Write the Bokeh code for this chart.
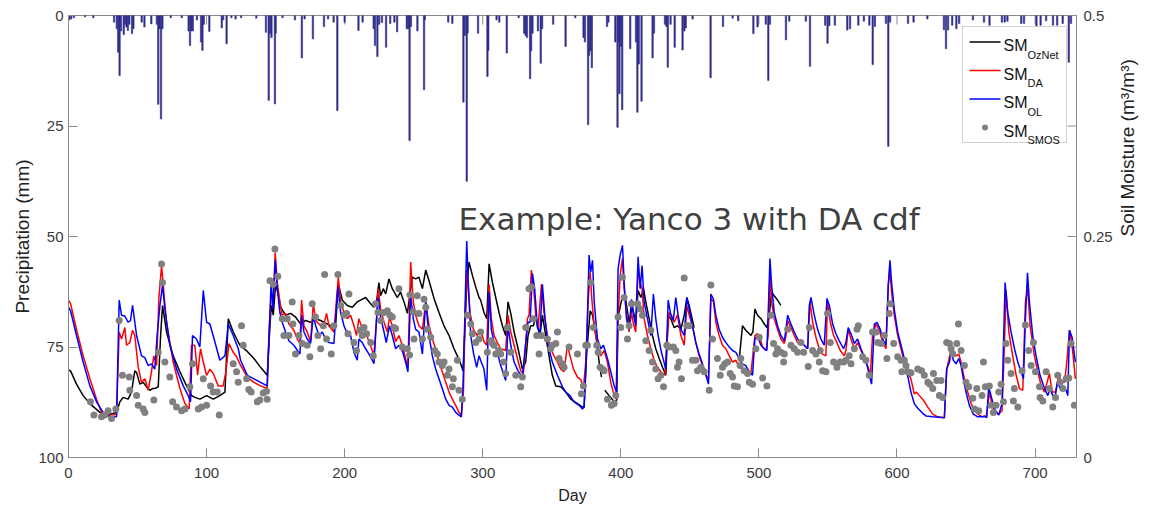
import math
import numpy as np
from bokeh.plotting import figure
from bokeh.models import Range1d, LinearAxis, FixedTicker, Label, BoxAnnotation
from bokeh.embed import file_html
from bokeh.resources import INLINE

# ---------------- data ----------------
DAY_TICKS = [0, 100, 200, 300, 400, 500, 600, 700]
PRECIP_TICKS = [0, 25, 50, 75, 100]
SM_TICKS = [0, 0.25, 0.5]
SM_TICK_LABELS = {0: "0", 0.25: "0.25", 0.5: "0.5"}
MIRROR_PRECIP_TICKS = [25, 75]

precip_day = [0.5, 2, 4, 12, 18, 33, 35, 36, 37, 38, 40, 41, 42, 43, 44, 46, 47, 53, 55, 60, 64, 65, 66, 67, 68,
              74, 82, 87, 88, 89, 90, 93, 96, 97, 98, 102, 111, 112, 114.5, 118, 121, 125, 136, 143, 145, 146,
              147, 149.5, 150, 155, 164, 169, 171, 177, 185, 188, 192, 194.7, 200, 210, 213, 221, 222, 223.7,
              225, 227, 230, 233, 236, 238, 245, 246, 247, 248, 252.7, 257.5, 258, 275, 278, 286, 287, 288.4,
              289, 296.6, 303.4, 304, 310, 312, 317.4, 326, 330, 331, 332, 334.3, 335, 336, 340, 342, 343,
              351, 360, 367, 373, 374, 376.3, 377, 378, 379, 390, 391, 396, 397.6, 398, 399, 400, 401, 406.8,
              411, 412, 413, 415, 423, 424, 432, 433, 434, 436, 439, 444.7, 446, 447, 452, 465, 474, 481, 485,
              496, 499, 505, 506.8, 508, 519.6, 522, 534, 537, 548, 549.7, 551, 555, 564, 566, 572, 576, 580,
              582.4, 584, 592, 593.7, 595, 608, 612, 622, 634, 635.5, 637, 640, 643, 645, 655, 663, 667, 676,
              678, 680, 690, 692, 701, 704, 708, 713, 716, 720, 724.4, 726]
precip_mm = [1.0, 0.8, 0.5, 0.3, 0.5, 1.5, 3.0, 8.3, 13.6, 3.5, 4.3, 2.0, 2.6, 3.4, 2.0, 4.1, 3.0, 1.5, 2.6, 1.9,
             2.0, 20.1, 3.0, 23.4, 3.0, 0.5, 0.5, 3.5, 6.8, 3.5, 3.5, 1.0, 6.0, 7.9, 2.0, 3.6, 2.8, 1.0, 6.4,
             0.5, 0.8, 0.5, 0.6, 3.8, 19.2, 4.0, 5.0, 20.0, 4.0, 0.5, 1.0, 9.6, 0.8, 5.3, 2.5, 0.8, 1.5, 21.5,
             1.5, 3.4, 1.5, 3.0, 6.8, 9.3, 2.0, 1.6, 7.2, 1.8, 1.5, 3.7, 3.0, 3.0, 28.3, 2.5, 3.5, 16.8, 1.0,
             1.5, 1.8, 19.6, 4.5, 37.5, 4.0, 4.0, 13.8, 7.9, 1.0, 1.5, 8.5, 0.5, 4.0, 4.5, 5.0, 14.3, 8.0, 4.0,
             3.5, 10.8, 3.0, 2.0, 7.0, 0.5, 5.0, 6.0, 24.7, 9.0, 8.0, 11.8, 2.5, 1.5, 6.0, 25.3, 6.0, 17.7,
             7.0, 21.3, 7.5, 6.0, 21.9, 11.0, 19.4, 9.6, 4.0, 2.0, 2.5, 11.7, 2.0, 7.2, 7.8, 3.5, 2.8, 0.8,
             14.1, 2.5, 0.6, 1.2, 4.1, 2.6, 2.0, 14.7, 2.0, 5.5, 1.3, 1.3, 11.5, 2.2, 6.3, 2.3, 2.2, 3.3, 3.0,
             2.2, 1.3, 2.2, 11.1, 2.5, 1.8, 29.6, 1.5, 1.8, 1.5, 0.8, 3.2, 7.5, 3.3, 2.2, 3.0, 1.8, 1.0, 1.5,
             2.2, 1.5, 1.5, 1.3, 1.8, 1.8, 2.4, 2.2, 1.2, 2.2, 2.2, 1.8, 10.6, 1.8]

# SM_OzNet (None = missing)
oznet_pts = [(0, 0.099), (1.5, 0.098), (5.8, 0.083), (10.6, 0.070), (15.5, 0.061), (22.7, 0.051), (30, 0.049),
             (34.8, 0.051), (37.2, 0.063), (39.6, 0.068), (43.2, 0.066), (45.6, 0.074), (48, 0.098), (49.3, 0.096),
             (51.7, 0.083), (54.1, 0.085), (56.5, 0.080), (58.9, 0.076), (60.9, 0.078), (62.5, 0.078), (65, 0.080),
             (66.7, 0.138), (68.1, 0.172), (71, 0.142), (75.8, 0.115), (80.7, 0.097), (85.5, 0.081), (87.9, 0.074),
             (89.1, 0.070), (91.5, 0.068), (95.2, 0.066), (100, 0.070), (104.8, 0.066), (109.6, 0.070),
             (113.3, 0.074), (115.7, 0.157), (119.3, 0.142), (124.1, 0.127), (129.5, 0.120), (134.3, 0.112),
             (139.1, 0.102), (143.9, 0.093), (145.1, 0.127), (146.8, 0.172), (148.3, 0.161), (150, 0.196),
             (151.6, 0.187), (153.6, 0.170), (157.2, 0.161), (160.8, 0.163), (164.4, 0.159), (168.1, 0.151),
             (171.7, 0.155), (175.3, 0.153), (178.9, 0.157), (182.6, 0.155), (186.2, 0.152), (189.8, 0.149),
             (193.4, 0.149), (195.4, 0.196), (198.3, 0.178), (201.9, 0.172), (205.5, 0.170), (209.1, 0.176),
             (211.5, 0.178), (215.2, 0.181), (218.8, 0.174), (221.2, 0.170), (223.1, 0.176), (224.8, 0.198),
             (226, 0.183), (228, 0.191), (229.7, 0.185), (232.1, 0.202), (234.5, 0.191), (238.1, 0.181),
             (240.5, 0.187), (243, 0.176), (245.4, 0.163), (247.3, 0.185), (249, 0.204), (251.4, 0.202),
             (253.8, 0.204), (256.3, 0.191), (258.7, 0.212), (261.1, 0.200), (264.7, 0.180), (268.3, 0.164),
             (271.9, 0.149), (275.6, 0.138), (279.2, 0.123), (281.6, 0.115), (284, 0.106), (285.7, 0.098),
             (287.2, 0.149), (288.4, 0.195), (290.1, 0.221), (292.5, 0.206), (294.9, 0.193), (297.3, 0.181),
             (298.5, 0.178), (300.9, 0.164), (302.9, 0.157), (304.6, 0.219), (307, 0.198), (309.4, 0.181),
             (311.8, 0.164), (314.2, 0.149), (316.6, 0.138), (318.3, 0.176), (320.3, 0.163), (322.7, 0.142),
             (325.6, 0.123), (328.7, 0.100), (331.1, 0.108), (332.8, 0.138), (334.7, 0.149), (336.7, 0.149),
             (338.4, 0.161), (340, 0.146), (341.5, 0.138), (343.2, 0.161), (345.6, 0.138), (348, 0.115),
             (350.4, 0.093), (352.9, 0.081), (356.5, 0.080), (360.1, 0.074), (363.7, 0.066), (368.6, 0.061),
             (372.2, 0.057), (373.4, 0.057), (375.3, 0.119), (377.8, 0.166), (379.5, 0.161), (381.9, 0.138),
             (384.3, 0.108), (386, 0.091), (387.2, None), (388.4, 0.076), (391.5, 0.070), (395.2, 0.063),
             (397, 0.065), (398, 0.159), (401.2, 0.183), (403.6, 0.178), (406, 0.153), (408.4, 0.170),
             (410.8, 0.153), (412.5, 0.189), (414.5, 0.181), (416.4, 0.191), (418.1, 0.176), (420.5, 0.157),
             (422.9, 0.138), (425.3, 0.123), (427.8, 0.112), (430.2, 0.102), (432.6, 0.093), (434.3, 0.161),
             (436.2, 0.157), (438.6, 0.147), (441, 0.149), (443.5, 0.145), (445.9, 0.161), (447.8, 0.181),
             (449.5, 0.172), (451.9, 0.155), (453.1, 0.147), (470, None), (485.7, 0.110), (488.1, 0.149),
             (490.5, 0.144), (494.2, 0.138), (495.6, 0.142), (497.1, 0.168), (499, 0.161), (501.5, 0.157),
             (503.9, 0.151), (505.8, 0.147), (507.5, 0.161), (509.2, 0.187), (511.1, 0.183), (513.5, 0.178),
             (515.9, 0.172)]

# SM_DA
da_pts = [(0, 0.178), (1.5, 0.174), (5.8, 0.145), (10.6, 0.115), (15.5, 0.089), (20.3, 0.066), (23.9, 0.051),
          (30, 0.0475), (34.8, 0.049), (36.7, 0.142), (38.4, 0.134), (40.8, 0.147), (42, 0.127), (44.4, 0.130),
          (46.4, 0.144), (48, 0.138), (50.5, 0.102), (52.9, 0.085), (55.3, 0.089), (57.7, 0.076), (60.1, 0.097),
          (61.8, 0.115), (63.8, 0.104), (65.4, 0.179), (67.4, 0.217), (68.6, 0.195), (71, 0.153), (75.8, 0.108),
          (80.7, 0.078), (84.3, 0.061), (87.4, 0.055), (89.1, 0.127), (91.5, 0.127), (93.5, 0.093),
          (95.6, 0.123), (97.6, 0.108), (100, 0.093), (102.4, 0.100), (104.8, 0.095), (108.4, 0.081),
          (112, 0.081), (114, 0.097), (116.2, 0.129), (119.3, 0.119), (121.7, 0.114), (124.1, 0.106),
          (129.5, 0.091), (134.3, 0.085), (139.1, 0.081), (143.9, 0.078), (145.1, 0.138), (146.8, 0.185),
          (148.3, 0.176), (149.7, 0.232), (151.2, 0.198), (153.1, 0.176), (154.8, 0.161), (157.2, 0.163),
          (159.6, 0.151), (163.2, 0.144), (165.7, 0.134), (167.6, 0.129), (168.8, 0.178), (170.5, 0.149),
          (172.9, 0.142), (175.3, 0.131), (177.3, 0.174), (179, 0.155), (182.6, 0.149), (185, 0.151),
          (186.9, 0.163), (188.6, 0.149), (192.2, 0.142), (195.4, 0.204), (197.1, 0.176), (199.5, 0.164),
          (201.9, 0.157), (204.3, 0.161), (206.7, 0.149), (208.6, 0.138), (210.3, 0.157), (212.7, 0.146),
          (215.2, 0.142), (217.6, 0.131), (220, 0.121), (221.2, 0.115), (223.1, 0.157), (224.3, 0.191),
          (226, 0.168), (228.5, 0.153), (230.9, 0.142), (232.5, 0.159), (234.5, 0.149), (236.9, 0.131),
          (239.3, 0.138), (241.7, 0.127), (244.1, 0.112), (245.8, 0.102), (247.8, 0.221), (249.7, 0.176),
          (251.4, 0.161), (253.8, 0.149), (256.3, 0.145), (258.7, 0.176), (261.1, 0.149), (263.5, 0.134),
          (265.9, 0.123), (268.3, 0.108), (270.7, 0.097), (273.2, 0.085), (275.6, 0.074), (278, 0.066),
          (280.4, 0.059), (282.8, 0.051), (284.5, 0.048), (286, 0.074), (287.2, 0.157), (288.4, 0.213),
          (289.4, 0.195), (290.8, 0.164), (293.2, 0.145), (296.1, 0.138), (298.5, 0.145), (300.9, 0.131),
          (302.9, 0.127), (304.6, 0.196), (306.2, 0.157), (308.2, 0.138), (310.6, 0.130), (313, 0.123),
          (316.6, 0.121), (318.3, 0.161), (320.3, 0.142), (322.7, 0.127), (325.1, 0.112), (327.5, 0.098),
          (329.4, 0.095), (331.1, 0.127), (332.3, 0.157), (333.5, 0.161), (335.2, 0.212), (336.7, 0.195),
          (338.4, 0.161), (340, 0.146), (342.5, 0.196), (344.4, 0.164), (346.8, 0.138), (349.2, 0.123),
          (351.6, 0.115), (354.1, 0.108), (356.5, 0.100), (358.9, 0.097), (361.3, 0.127), (363.2, 0.115),
          (365.7, 0.100), (368.6, 0.091), (371, 0.088), (372.9, 0.078), (374.6, 0.108), (376.3, 0.176),
          (377.8, 0.210), (379, 0.179), (380.7, 0.149), (383.1, 0.127), (385.5, 0.115), (387.9, 0.121),
          (390.3, 0.108), (392.7, 0.085), (395.2, 0.070), (396.6, 0.066), (398, 0.157), (399.5, 0.206),
          (401.2, 0.225), (402.4, 0.191), (404.1, 0.164), (406, 0.142), (407.7, 0.164), (409.2, 0.151),
          (410.8, 0.142), (412.5, 0.213), (414, 0.198), (415.4, 0.191), (416.9, 0.157), (419.3, 0.138),
          (421.7, 0.123), (424.1, 0.110), (426.5, 0.102), (429, 0.097), (431.9, 0.093), (433.8, 0.138),
          (435, 0.164), (436.7, 0.161), (438.6, 0.153), (441, 0.161), (443.5, 0.138), (445.9, 0.127),
          (447.8, 0.172), (449.5, 0.161), (451.9, 0.149), (454.3, 0.130), (456.7, 0.115), (459.1, 0.104),
          (461.6, 0.093), (463.5, 0.089), (465.2, 0.180), (467.1, 0.176), (468.8, 0.153), (471.2, 0.138),
          (473.6, 0.127), (476.1, 0.123), (478.5, 0.115), (480.9, 0.108), (483.3, 0.110), (485.7, 0.102),
          (489.3, 0.100), (491.8, 0.097), (494.2, 0.095), (497.1, 0.138), (499, 0.140), (501, 0.134),
          (502.7, 0.125), (505.1, 0.121), (506.8, 0.138), (508, 0.210), (509.2, 0.176), (511.1, 0.157),
          (513.5, 0.145), (515.9, 0.134), (518.4, 0.129), (519.6, 0.138), (520.8, 0.155), (523.2, 0.147),
          (525.6, 0.138), (528, 0.130), (530.4, 0.130), (532.8, 0.127), (535.3, 0.123), (537, 0.176),
          (538.9, 0.153), (541.3, 0.136), (543.7, 0.123), (546.1, 0.117), (548.5, 0.115), (549.7, 0.176),
          (551.7, 0.153), (554.1, 0.138), (556.5, 0.130), (558.9, 0.121), (561.8, 0.115), (563, 0.121),
          (564.7, 0.145), (566.7, 0.134), (569.1, 0.123), (571.5, 0.130), (573.9, 0.121), (576.3, 0.114),
          (578.7, 0.104), (580.7, 0.093), (582.3, 0.138), (584.8, 0.151), (587.2, 0.144), (589.6, 0.130),
          (592, 0.123), (593.7, 0.195), (594.7, 0.213), (596.1, 0.187), (598, 0.161), (600.5, 0.138),
          (602.9, 0.123), (605.3, 0.108), (607.7, 0.097), (610.1, 0.089), (612.5, 0.072), (614, 0.074),
          (616.2, 0.070), (619.5, 0.064), (622.3, 0.057), (625.9, 0.049), (629.5, 0.046), (634.3, 0.045),
          (636, 0.100), (637.2, 0.108), (639.2, 0.123), (640.8, 0.115), (642.8, 0.115), (644.7, 0.117),
          (646.4, 0.108), (648.8, 0.089), (651.2, 0.074), (653.7, 0.061), (656.1, 0.053), (659.7, 0.048),
          (662.1, 0.046), (664.6, 0.046), (667, 0.074), (668.9, 0.059), (671.3, 0.051), (673.7, 0.049),
          (676.1, 0.053), (677.8, 0.127), (679, 0.189), (681, 0.142), (683.8, 0.115), (686.3, 0.093),
          (688.7, 0.078), (691.1, 0.076), (693, 0.176), (694.7, 0.191), (696.4, 0.149), (699.5, 0.115),
          (702, 0.097), (704.4, 0.081), (706.8, 0.074), (708.7, 0.085), (710.4, 0.095), (712.3, 0.074),
          (714.7, 0.074), (717.2, 0.093), (719, 0.085), (721.3, 0.085), (723, 0.108), (724.9, 0.144),
          (726.8, 0.127), (729.2, 0.089)]

# SM_OL
ol_pts = [(0, 0.170), (1.5, 0.166), (5.8, 0.138), (10.6, 0.108), (15.5, 0.081), (20.3, 0.063), (25.1, 0.051),
          (30, 0.046), (34.8, 0.046), (36.7, 0.178), (38.4, 0.161), (40.8, 0.160), (43.2, 0.153), (44.9, 0.155),
          (46.4, 0.172), (49.3, 0.138), (52.9, 0.115), (55.3, 0.113), (57.7, 0.104), (60.1, 0.106), (62.5, 0.100),
          (64.2, 0.138), (66.2, 0.172), (68.1, 0.195), (69.8, 0.168), (73.4, 0.127), (78.3, 0.100), (83.1, 0.081),
          (86.7, 0.070), (88.4, 0.063), (89.8, 0.138), (92.7, 0.134), (95.1, 0.125), (97.6, 0.189), (100, 0.153),
          (102.4, 0.151), (106, 0.131), (109.6, 0.110), (113.3, 0.115), (115.7, 0.151), (119.3, 0.138),
          (123, 0.123), (124.6, 0.110), (129.5, 0.093), (134.3, 0.089), (139.1, 0.085), (143.9, 0.081),
          (145.1, 0.131), (146.8, 0.200), (148, 0.168), (149.7, 0.223), (151.2, 0.191), (153.1, 0.164),
          (154.8, 0.153), (157.2, 0.142), (159.6, 0.132), (163.2, 0.127), (167.6, 0.117), (168.8, 0.161),
          (170.5, 0.142), (172.9, 0.134), (175.3, 0.129), (177.3, 0.161), (179, 0.149), (181.4, 0.138),
          (183.8, 0.142), (186.2, 0.134), (188.6, 0.130), (192.2, 0.129), (195.1, 0.193), (197.1, 0.164),
          (199.5, 0.149), (201.9, 0.140), (204.3, 0.138), (206.7, 0.119), (209.1, 0.110), (210.3, 0.134),
          (212.7, 0.130), (215.2, 0.123), (217.6, 0.117), (220, 0.110), (221.2, 0.106), (223.1, 0.157),
          (224.3, 0.181), (226, 0.159), (228.5, 0.142), (230.1, 0.130), (232.5, 0.149), (234.5, 0.138),
          (236.9, 0.123), (239.3, 0.127), (241.7, 0.121), (244.1, 0.108), (245.8, 0.097), (247.8, 0.183),
          (249.7, 0.157), (251.4, 0.145), (253.8, 0.142), (256.3, 0.117), (258.7, 0.176), (261.1, 0.138),
          (263.5, 0.115), (265.9, 0.100), (268.3, 0.089), (270.7, 0.078), (273.2, 0.066), (275.6, 0.059),
          (278, 0.057), (280.4, 0.051), (282.8, 0.048), (284.5, 0.046), (285.7, 0.081), (287, 0.157),
          (288.4, 0.245), (289.6, 0.195), (291.3, 0.138), (293.2, 0.119), (295.6, 0.102), (297.3, 0.115),
          (298.9, 0.108), (300.9, 0.100), (302.9, 0.076), (304.6, 0.187), (306.2, 0.145), (308.2, 0.130),
          (310.6, 0.119), (313, 0.104), (316.6, 0.087), (318.3, 0.149), (320.3, 0.127), (322.7, 0.108),
          (325.6, 0.098), (328.7, 0.091), (331.1, 0.130), (332.8, 0.153), (334.3, 0.153), (336, 0.208),
          (337.6, 0.191), (339.6, 0.147), (341.5, 0.142), (343.2, 0.196), (345.1, 0.157), (347.3, 0.127),
          (350.4, 0.108), (354.1, 0.093), (357.7, 0.080), (360.1, 0.074), (363.2, 0.070), (366.1, 0.063),
          (369.8, 0.059), (372.2, 0.055), (373.4, 0.057), (375.3, 0.127), (377, 0.229), (378.2, 0.210),
          (379.5, 0.223), (380.7, 0.176), (383.1, 0.134), (385.5, 0.123), (387.4, 0.127), (390.3, 0.112),
          (392.7, 0.097), (395.2, 0.081), (396.8, 0.074), (398, 0.213), (399.5, 0.229), (401.2, 0.240),
          (402.4, 0.198), (404.1, 0.157), (406, 0.145), (407.7, 0.179), (409.2, 0.161), (410.8, 0.149),
          (412.5, 0.227), (414, 0.191), (415.4, 0.217), (416.9, 0.176), (419.3, 0.157), (421.7, 0.138),
          (423.6, 0.185), (425.3, 0.157), (427, 0.138), (429.4, 0.119), (432.6, 0.100), (434.3, 0.178),
          (436.2, 0.161), (438, 0.155), (439.8, 0.181), (441.5, 0.161), (443.5, 0.145), (445.9, 0.138),
          (447.8, 0.181), (449.5, 0.168), (451.9, 0.149), (454.3, 0.130), (456.7, 0.117), (459.1, 0.106),
          (461.6, 0.093), (463.5, 0.083), (465.2, 0.185), (467.1, 0.179), (468.8, 0.161), (471.2, 0.145),
          (473.6, 0.136), (476.1, 0.130), (478.5, 0.125), (480.9, 0.121), (483.3, 0.119), (485.7, 0.112),
          (488.1, 0.106), (490.5, 0.104), (493, 0.097), (495.4, 0.093), (497.1, 0.134), (499, 0.138),
          (501.4, 0.127), (503.9, 0.123), (505.8, 0.121), (507, 0.176), (508, 0.225), (509.2, 0.195),
          (511.1, 0.164), (513.5, 0.149), (515.9, 0.138), (518.4, 0.132), (519.6, 0.145), (520.8, 0.161),
          (523.2, 0.151), (525.6, 0.142), (528, 0.134), (530.4, 0.130), (532.8, 0.127), (535.3, 0.123),
          (536.5, 0.172), (537.7, 0.181), (540.1, 0.161), (542.5, 0.145), (544.9, 0.134), (547.3, 0.127),
          (549.3, 0.180), (551, 0.172), (553.4, 0.151), (555.8, 0.140), (558.2, 0.132), (561.3, 0.123),
          (563, 0.130), (564.7, 0.147), (566.7, 0.140), (569.1, 0.129), (571.5, 0.134), (573.9, 0.123),
          (576.3, 0.114), (578.7, 0.102), (579.9, 0.093), (581.6, 0.083), (583.6, 0.151), (585.5, 0.153),
          (587.9, 0.145), (589.6, 0.134), (592, 0.127), (593.7, 0.195), (594.9, 0.223), (596.1, 0.198),
          (598, 0.168), (600.5, 0.142), (602.9, 0.127), (605.3, 0.112), (607.7, 0.093), (610.1, 0.074),
          (612.5, 0.061), (614.9, 0.056), (618.6, 0.050), (621, 0.047), (625.9, 0.046), (634.3, 0.045),
          (636, 0.100), (638, 0.108), (639.2, 0.121), (640.8, 0.110), (642.8, 0.106), (644.7, 0.112),
          (646.4, 0.104), (648.1, 0.089), (650, 0.074), (652.4, 0.059), (655.3, 0.049), (658.5, 0.046),
          (661.6, 0.046), (663.3, 0.047), (665, 0.045), (666.4, 0.080), (668.1, 0.070), (670.6, 0.055),
          (673.7, 0.048), (676.1, 0.061), (677.1, 0.127), (678.3, 0.198), (680.2, 0.164), (682.6, 0.142),
          (685.1, 0.123), (687.5, 0.108), (689.9, 0.097), (691.6, 0.089), (693, 0.157), (694.5, 0.209),
          (695.9, 0.176), (698.3, 0.138), (700.7, 0.115), (703.6, 0.093), (706.8, 0.078), (709.2, 0.070),
          (710.9, 0.078), (712.8, 0.070), (714.7, 0.070), (716.4, 0.087), (718.1, 0.078), (720.1, 0.080),
          (722.5, 0.076), (723.7, 0.070), (724.9, 0.144), (726.8, 0.136), (729.2, 0.108)]

# SM_SMOS retrievals
smos_pts = [(15.9, 0.063), (18.4, 0.048), (23.9, 0.046), (26.3, 0.048), (28.7, 0.053), (31.2, 0.044),
            (34.3, 0.055), (36.7, 0.155), (39.1, 0.093), (44, 0.091), (44.4, 0.076), (49.3, 0.070), (50.5, 0.059),
            (54.1, 0.055), (55.3, 0.051), (61.8, 0.065), (65, 0.119), (67.4, 0.219), (68.1, 0.198), (69.8, 0.108),
            (73.4, 0.091), (75.4, 0.063), (78.2, 0.057), (81.9, 0.053), (84.3, 0.055), (87.9, 0.080),
            (89.8, 0.106), (94, 0.055), (96.4, 0.057), (97.6, 0.089), (100, 0.059), (102.9, 0.081),
            (104.8, 0.074), (107.7, 0.074), (109.2, 0.048), (119.3, 0.106), (121.7, 0.097), (122.9, 0.085),
            (125.3, 0.149), (126.5, 0.127), (129, 0.089), (130.6, 0.077), (132.3, 0.074), (136.7, 0.063),
            (138.6, 0.065), (141, 0.073), (143.4, 0.075), (143.9, 0.066), (145.9, 0.200), (148.3, 0.196),
            (149.5, 0.236), (151.6, 0.205), (154.8, 0.157), (156, 0.138), (158.4, 0.157), (159.6, 0.138),
            (162, 0.176), (162.5, 0.151), (164.4, 0.117), (166.9, 0.138), (169.3, 0.129), (172.9, 0.127),
            (174.8, 0.114), (176.5, 0.174), (178.9, 0.159), (180.6, 0.138), (182.6, 0.123), (184.5, 0.149),
            (185.5, 0.207), (186.9, 0.134), (190.3, 0.117), (192.2, 0.149), (195.1, 0.207), (197.1, 0.172),
            (199.5, 0.161), (201.4, 0.163), (202.4, 0.140), (203.1, 0.185), (206.7, 0.130), (208.6, 0.121),
            (211.1, 0.144), (212.7, 0.138), (214, 0.147), (215.9, 0.140), (218.8, 0.130), (220.7, 0.115),
            (222.4, 0.174), (224.1, 0.164), (226, 0.155), (228.4, 0.164), (230.9, 0.166), (232.8, 0.161),
            (234.5, 0.159), (235.7, 0.147), (236.9, 0.146), (239.3, 0.191), (241.7, 0.125), (245.4, 0.123),
            (247, 0.116), (247.3, 0.184), (249.7, 0.165), (250.2, 0.134), (252.6, 0.183), (253.8, 0.163),
            (256.3, 0.134), (257.5, 0.179), (258.7, 0.170), (259.9, 0.145), (262.3, 0.136), (265.2, 0.121),
            (267.1, 0.117), (268.3, 0.108), (270.7, 0.104), (272, 0.108), (274.4, 0.093), (275.6, 0.100),
            (278, 0.080), (278.7, 0.089), (281.6, 0.110), (282.8, 0.076), (285.2, 0.066), (288.9, 0.161),
            (291.3, 0.151), (292.5, 0.140), (294.9, 0.130), (297.3, 0.134), (298.5, 0.142), (303.3, 0.119),
            (305.8, 0.132), (307, 0.129), (308.2, 0.127), (309.4, 0.117), (311.8, 0.121), (313, 0.117),
            (315, 0.108), (316.6, 0.095), (317.8, 0.147), (320.3, 0.119), (323.9, 0.093), (327.5, 0.080),
            (328.7, 0.091), (331.1, 0.147), (333.5, 0.191), (335.2, 0.193), (336.7, 0.157), (339.1, 0.138),
            (340.8, 0.117), (342.5, 0.138), (346.8, 0.134), (349.2, 0.123), (350.4, 0.127), (352.9, 0.129),
            (354.1, 0.142), (355.3, 0.112), (357.7, 0.106), (358.9, 0.102), (362.5, 0.125), (368.6, 0.117),
            (371.4, 0.072), (372.9, 0.081), (374.6, 0.127), (375.8, 0.127), (378.2, 0.198), (380.2, 0.147),
            (382.6, 0.127), (383.6, 0.119), (385, 0.102), (386.7, 0.100), (387.9, 0.098), (390.3, 0.066),
            (393.2, 0.059), (395.2, 0.061), (396.4, 0.070), (398, 0.159), (400, 0.147), (401.2, 0.204),
            (402.4, 0.181), (404.8, 0.134), (406, 0.149), (407.7, 0.174), (412.1, 0.174), (414, 0.168),
            (415.7, 0.161), (418.1, 0.132), (420.5, 0.121), (421.7, 0.144), (422.9, 0.108), (425.3, 0.100),
            (427, 0.089), (429, 0.093), (430.9, 0.080), (433.3, 0.127), (435, 0.125), (438.1, 0.125),
            (439.8, 0.121), (441, 0.102), (442.2, 0.108), (443.9, 0.089), (445.9, 0.203), (447.8, 0.149),
            (449.5, 0.149), (451.9, 0.110), (454.3, 0.110), (455.5, 0.098), (457.9, 0.102), (460.4, 0.097),
            (464, 0.076), (465.2, 0.195), (466.4, 0.134), (470, 0.112), (472, 0.093), (473.6, 0.102),
            (475.3, 0.106), (477.3, 0.108), (479.2, 0.095), (480.9, 0.091), (482.1, 0.081), (484.5, 0.080),
            (486.4, 0.104), (486.9, 0.112), (489.3, 0.098), (491.8, 0.095), (493, 0.085), (495.4, 0.083),
            (497.8, 0.123), (500.2, 0.136), (502.7, 0.090), (505.8, 0.081), (508.7, 0.161), (510.6, 0.129),
            (512.3, 0.117), (513.5, 0.123), (515.9, 0.119), (517.9, 0.108), (518.4, 0.117), (520.8, 0.145),
            (523.2, 0.127), (525.6, 0.123), (528, 0.119), (530.4, 0.130), (532.4, 0.119), (535.7, 0.103),
            (536.5, 0.147), (538.9, 0.121), (541.3, 0.117), (543.7, 0.108), (544.4, 0.121), (546.1, 0.098),
            (548.5, 0.097), (549.7, 0.163), (551.7, 0.130), (554.1, 0.108), (556.5, 0.102), (558.9, 0.108),
            (561.3, 0.108), (563, 0.110), (565.4, 0.115), (566.7, 0.106), (569.1, 0.123), (571, 0.145),
            (572, 0.149), (575.1, 0.114), (577.5, 0.110), (579.9, 0.093), (582.3, 0.142), (584.8, 0.142),
            (586, 0.130), (588.4, 0.129), (590.8, 0.138), (592.7, 0.112), (594.4, 0.163), (595.1, 0.174),
            (597.6, 0.129), (600.5, 0.114), (602.9, 0.110), (603.5, 0.097), (605.3, 0.110), (606.5, 0.104),
            (607.7, 0.097), (610.1, 0.096), (615, 0.100), (617.8, 0.098), (619.8, 0.093), (622.3, 0.085),
            (623.9, 0.083), (625.9, 0.078), (626.4, 0.095), (628.8, 0.087), (630.7, 0.070), (631.9, 0.087),
            (633.1, 0.068), (636, 0.130), (638, 0.129), (639.2, 0.123), (640.4, 0.117), (643.3, 0.129),
            (644.5, 0.151), (646.4, 0.121), (648.8, 0.104), (650, 0.085), (652, 0.080), (654.9, 0.067),
            (656.1, 0.055), (657.8, 0.078), (659.2, 0.053), (661.6, 0.070), (662.6, 0.108), (664, 0.080),
            (666.9, 0.081), (668.1, 0.059), (669.8, 0.051), (671.8, 0.059), (673.7, 0.074), (675.4, 0.083),
            (677.1, 0.063), (679, 0.129), (680.2, 0.110), (682.6, 0.095), (684.3, 0.064), (685, 0.078),
            (687.5, 0.057), (690.6, 0.098), (693, 0.150), (695.4, 0.121), (697.1, 0.104), (698.8, 0.130),
            (700.3, 0.097), (703.2, 0.080), (703.6, 0.068), (705.6, 0.064), (708, 0.097), (710.4, 0.078),
            (712.8, 0.057), (714.8, 0.068), (716.4, 0.093), (718.1, 0.085), (720.1, 0.078), (722.5, 0.089),
            (724.4, 0.090), (726.1, 0.129), (728.5, 0.059)]


def unzip(pts):
    xs = np.array([a for a, _ in pts], dtype=float)
    ys = np.array([np.nan if b is None else b for _, b in pts], dtype=float)
    return xs, ys


# ---------------- style ----------------
AXIS_COL = "#8a8a8a"
TEXT_COL = "#3a3a3a"
FONT = "Liberation Sans"
W, H = 1151, 506
FRAME_W, FRAME_H = 1008, 442
TICK_PX = 9

p = figure(width=W, height=H, x_range=Range1d(0, 730), y_range=Range1d(100, 0),
           output_backend="svg", toolbar_location=None,
           min_border_left=68, min_border_right=75, min_border_top=15, min_border_bottom=49)
p.extra_y_ranges = {"sm": Range1d(0, 0.5)}
p.grid.visible = False
p.outline_line_color = AXIS_COL
p.background_fill_color = "white"
p.border_fill_color = "white"


def style_axis(ax):
    ax.axis_line_color = AXIS_COL
    ax.major_tick_line_color = AXIS_COL
    ax.major_tick_in = TICK_PX
    ax.major_tick_out = 0
    ax.minor_tick_line_color = None
    ax.major_label_text_color = TEXT_COL
    ax.major_label_text_font = FONT
    ax.major_label_text_font_size = "15px"
    ax.axis_label_text_font = FONT
    ax.axis_label_text_font_style = "normal"
    ax.axis_label_text_color = "#222222"


# bottom axis
xa = p.xaxis[0]
xa.ticker = FixedTicker(ticks=DAY_TICKS)
style_axis(xa)
xa.axis_label = "Day"
xa.axis_label_text_font_size = "16px"
xa.major_label_standoff = 10
xa.axis_label_standoff = 6

# left axis (precipitation, reversed)
ya = p.yaxis[0]
ya.ticker = FixedTicker(ticks=PRECIP_TICKS)
style_axis(ya)
ya.axis_label = "Precipitation (mm)"
ya.axis_label_text_font_size = "19px"
ya.major_label_standoff = 5
ya.axis_label_standoff = 2

# right axis (soil moisture)
ra = LinearAxis(y_range_name="sm", ticker=FixedTicker(ticks=SM_TICKS),
                major_label_overrides=SM_TICK_LABELS)
style_axis(ra)
ra.major_label_standoff = 7
ra.axis_label = "Soil Moisture (m³/m³)"
ra.axis_label_text_font_size = "19px"
ra.axis_label_standoff = 12
try:
    ra.axis_label_orientation = math.pi / 2   # read bottom-to-top, like the left title
except Exception:
    pass
p.add_layout(ra, "right")

# mirrored inward ticks on the top edge and on the right edge (box style)
tick_mm = TICK_PX / FRAME_H * 100.0
tick_days = TICK_PX / FRAME_W * 730.0
p.segment(x0=DAY_TICKS, y0=[0] * len(DAY_TICKS), x1=DAY_TICKS, y1=[tick_mm] * len(DAY_TICKS),
          line_color=AXIS_COL, line_width=1)
p.segment(x0=[730 - tick_days] * len(MIRROR_PRECIP_TICKS), y0=MIRROR_PRECIP_TICKS,
          x1=[730] * len(MIRROR_PRECIP_TICKS), y1=MIRROR_PRECIP_TICKS,
          line_color=AXIS_COL, line_width=1)

# precipitation bars hanging from the top
p.vbar(x=precip_day, top=0, bottom=precip_mm, width=1.0,
       fill_color="#2f2d8a", line_color="#2f2d8a", line_width=0.6)

# soil moisture series
ox, oy = unzip(oznet_pts)
dx, dy = unzip(da_pts)
lx, ly = unzip(ol_pts)
sx, sy = unzip(smos_pts)
p.line(ox, oy, y_range_name="sm", line_color="black", line_width=1.5)
p.line(dx, dy, y_range_name="sm", line_color="#ff0000", line_width=1.5)
p.line(lx, ly, y_range_name="sm", line_color="#0000ff", line_width=1.5)
p.scatter(sx, sy, y_range_name="sm", size=7, fill_color="#808080", line_color=None)

# annotation text
p.add_layout(Label(x=390, y=239, x_units="screen", y_units="screen",
                   text="Example:  Yanco 3 with DA cdf", text_font="DejaVu Sans",
                   text_font_size="31px", text_color="#404040", text_baseline="alphabetic"))

# ---------------- legend (drawn manually for subscripts) ----------------
p.add_layout(BoxAnnotation(left=894, right=998, bottom=315, top=431,
                           left_units="screen", right_units="screen",
                           bottom_units="screen", top_units="screen",
                           fill_color="white", fill_alpha=1.0,
                           line_color="#6a6a6a", line_width=1))

legend_names = ["OzNet", "DA", "OL", "SMOS"]
legend_colors = ["black", "#ff0000", "#0000ff", None]
row_y = [415.5, 387, 358.5, 330]
for name, col, cy in zip(legend_names, legend_colors, row_y):
    if col is not None:
        p.add_layout(BoxAnnotation(left=901, right=932, bottom=cy - 0.8, top=cy + 0.8,
                                   left_units="screen", right_units="screen",
                                   bottom_units="screen", top_units="screen",
                                   fill_color=col, fill_alpha=1.0, line_color=None))
    else:
        p.add_layout(BoxAnnotation(left=913.5, right=919.5, bottom=cy - 3, top=cy + 3,
                                   left_units="screen", right_units="screen",
                                   bottom_units="screen", top_units="screen",
                                   fill_color="#808080", fill_alpha=1.0, line_color=None,
                                   border_radius=3))
    p.add_layout(Label(x=935, y=cy - 3.5, x_units="screen", y_units="screen", text="SM",
                       text_font=FONT, text_font_size="16px", text_color="#111111",
                       text_baseline="alphabetic"))
    p.add_layout(Label(x=959, y=cy - 12.5, x_units="screen", y_units="screen", text=name,
                       text_font=FONT, text_font_size="11px", text_color="#111111",
                       text_baseline="alphabetic"))

open("out.html", "w").write(file_html(p, INLINE))
